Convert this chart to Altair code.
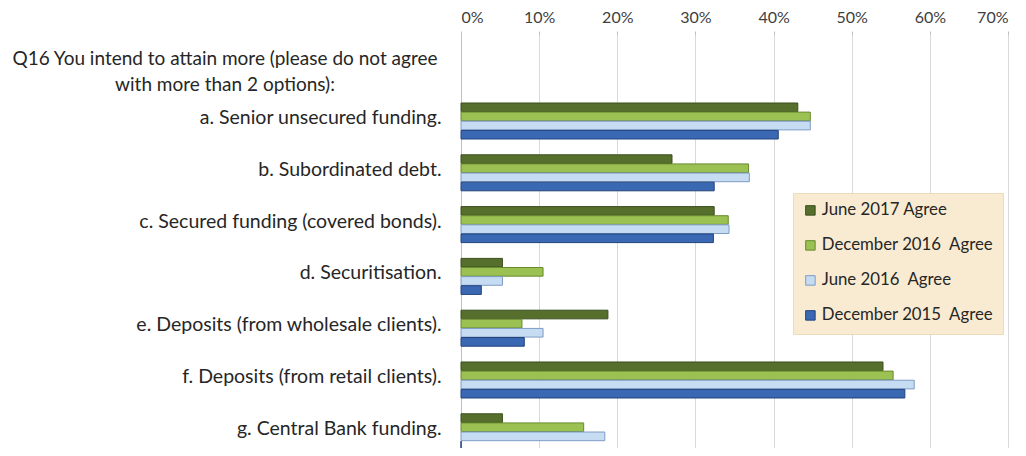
import altair as alt
import pandas as pd

header_key = "Q16"
header_lines = ["Q16 You intend to attain more (please do not agree",
                "with more than 2 options):"]
categories = [
    "a. Senior unsecured funding.",
    "b. Subordinated debt.",
    "c. Secured funding (covered bonds).",
    "d. Securitisation.",
    "e. Deposits (from wholesale clients).",
    "f. Deposits (from retail clients).",
    "g. Central Bank funding.",
]
series = ["June 2017 Agree", "December 2016\u00a0 Agree", "June 2016\u00a0 Agree", "December 2015\u00a0 Agree"]
jun2017 = [43.1, 27.0, 32.4, 5.3, 18.8, 54.0, 5.3]
dec2016 = [44.7, 36.8, 34.2, 10.5, 7.8, 55.3, 15.7]
jun2016 = [44.7, 36.9, 34.3, 5.3, 10.5, 58.0, 18.4]
dec2015 = [40.6, 32.4, 32.3, 2.6, 8.1, 56.8, 0.0]
tick_values = [0, 10, 20, 30, 40, 50, 60, 70]

fills = ["#566f2c", "#9bc153", "#c6dcf3", "#3a68b2"]
strokes = ["#3b4f1e", "#6a8a30", "#7f9cc4", "#22437c"]

rows = []
for i, c in enumerate(categories):
    for s, vals in zip(series, [jun2017, dec2016, jun2016, dec2015]):
        rows.append({"category": c, "series": s, "value": vals[i]})
df = pd.DataFrame(rows)
header_df = pd.DataFrame({"category": [header_key], "text": ["\n".join(header_lines)]})

FONT = "Lato"
ydomain = [header_key] + categories
yscale = alt.Scale(domain=ydomain, range=[0, 431], paddingInner=0.305, paddingOuter=0.313)
y_axis = alt.Axis(title=None, ticks=False, domain=True, domainColor="#bfbfbf",
                  labelPadding=20, labelFontSize=19.5, labelFont=FONT, labelColor="#262626",
                  labelLimit=450, grid=False, labelOffset=-3,
                  labelExpr="datum.value == 'Q16' ? '' : datum.value")
y_enc = alt.Y("category:N", scale=yscale, sort=ydomain, axis=y_axis)

x_enc = alt.X("value:Q", scale=alt.Scale(domain=[0, 70], nice=False),
              axis=alt.Axis(orient="top", title=None, values=tick_values,
                            labelExpr="datum.value + '%'", domain=False,
                            ticks=True, tickSize=4, tickColor="#bfbfbf",
                            labelPadding=6, labelFontSize=16, labelFont=FONT,
                            labelColor="#404040", grid=True, gridColor="#d9d9d9"))

bars = alt.Chart(df).mark_bar(strokeWidth=1).encode(
    x=x_enc,
    y=y_enc,
    yOffset=alt.YOffset("series:N", sort=series,
                        scale=alt.Scale(domain=series, paddingInner=0.05)),
    color=alt.Color("series:N", sort=series,
                    scale=alt.Scale(domain=series, range=fills),
                    legend=alt.Legend(title=None, orient="none", legendX=332, legendY=158,
                                      fillColor="#f9ebd1", strokeColor="#eadbb9",
                                      padding=9, rowPadding=17, symbolType="square",
                                      symbolSize=90, symbolStrokeWidth=1, labelOffset=3,
                                      labelFontSize=16.8, labelFont=FONT,
                                      labelColor="#262626", labelLimit=300)),
    stroke=alt.Stroke("series:N", sort=series,
                      scale=alt.Scale(domain=series, range=strokes), legend=None),
)

header = alt.Chart(header_df).mark_text(
    align="center", baseline="middle", lineBreak="\n", lineHeight=26,
    fontSize=19, font=FONT, color="#262626", dy=-10
).encode(
    y=y_enc,
    x=alt.value(-236),
    text="text:N",
)

chart = alt.layer(bars, header).properties(
    width=547, height=413,
    autosize=alt.AutoSizeParams(type="none"),
    padding={"left": 453, "top": 27, "right": 8, "bottom": 0},
).configure_view(stroke=None)

chart.save("out.html", embed_options={"renderer": "svg", "actions": False})
